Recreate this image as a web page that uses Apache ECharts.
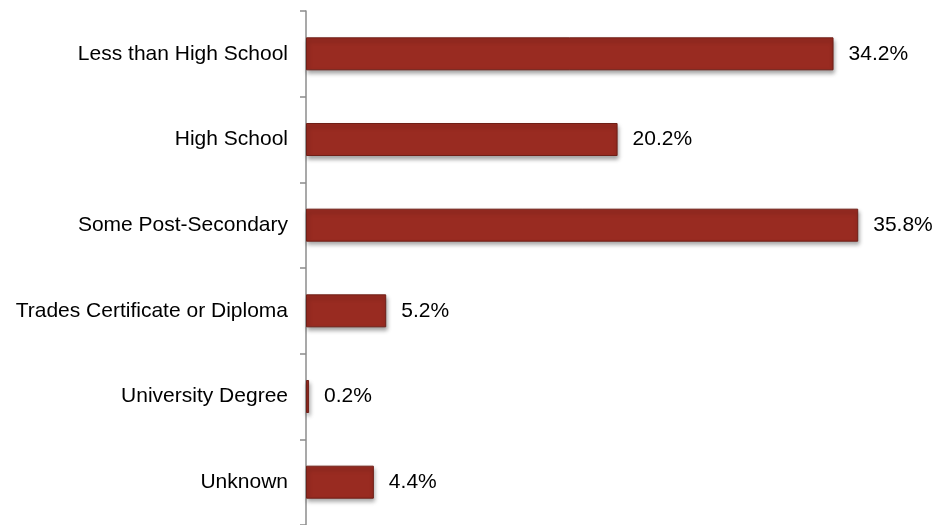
<!DOCTYPE html>
<html>
<head>
<meta charset="utf-8">
<script src="https://cdn.jsdelivr.net/npm/echarts@6/dist/echarts.min.js"></script>
<style>
  html, body { margin: 0; padding: 0; background: #ffffff; }
  #chart { width: 937px; height: 525px; }
</style>
</head>
<body>
<div id="chart"></div>
<script>
// Education level categories (top to bottom) and their shares in percent
const categories = [
  'Less than High School',
  'High School',
  'Some Post-Secondary',
  'Trades Certificate or Diploma',
  'University Degree',
  'Unknown'
];
const shares = [34.2, 20.2, 35.8, 5.2, 0.2, 4.4];

const chart = echarts.init(document.getElementById('chart'), null, { renderer: 'canvas' });

chart.setOption({
  backgroundColor: '#ffffff',
  animation: false,
  grid: { left: 306, top: 11, width: 617, height: 516, containLabel: false },
  xAxis: {
    type: 'value',
    min: 0,
    max: 40,
    show: false
  },
  yAxis: {
    type: 'category',
    data: categories.slice().reverse(),
    axisLine: { show: true, lineStyle: { color: '#8c8c8c', width: 1.5 } },
    axisTick: { show: true, inside: false, length: 6, lineStyle: { color: '#8c8c8c', width: 1.5 } },
    axisLabel: {
      margin: 18,
      color: '#000000',
      fontFamily: '"Liberation Sans", Arial, sans-serif',
      fontSize: 21
    },
    splitLine: { show: false }
  },
  series: [{
    type: 'bar',
    data: shares.slice().reverse(),
    barWidth: 33,
    itemStyle: {
      color: '#992b21',
      borderColor: '#6f1f17',
      borderWidth: 1,
      shadowColor: 'rgba(0,0,0,0.35)',
      shadowBlur: 4,
      shadowOffsetX: 1,
      shadowOffsetY: 3
    },
    label: {
      show: true,
      position: 'right',
      distance: 15,
      color: '#000000',
      fontFamily: '"Liberation Sans", Arial, sans-serif',
      fontSize: 21,
      formatter: p => p.value.toFixed(1) + '%'
    }
  }]
});
</script>
</body>
</html>
